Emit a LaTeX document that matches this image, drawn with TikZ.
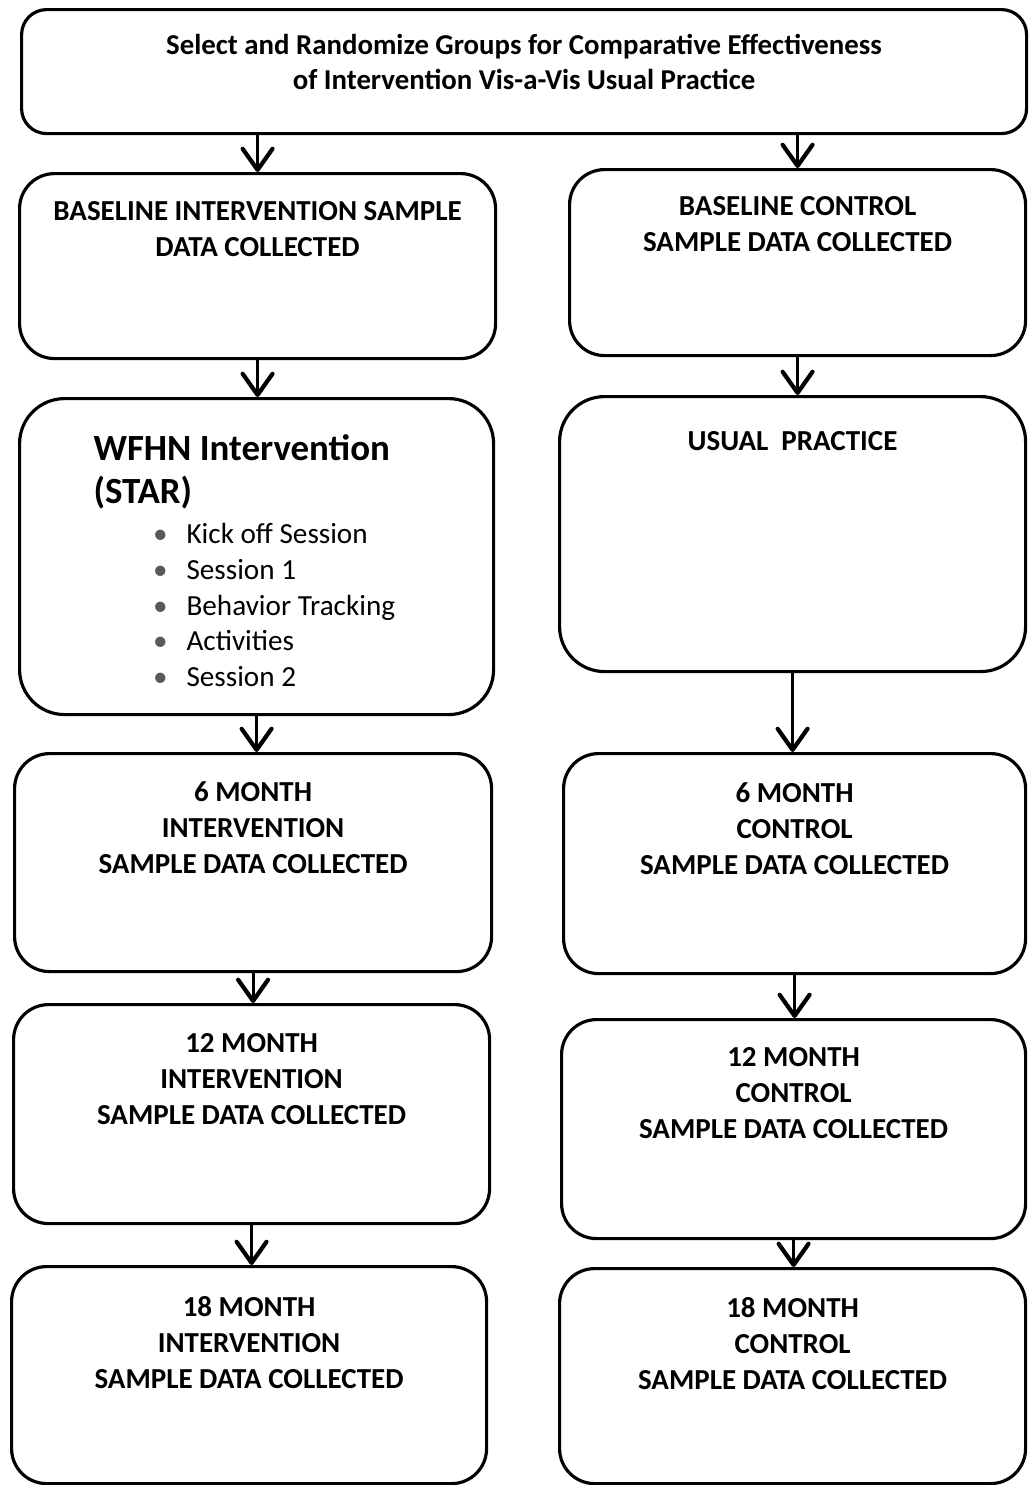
\documentclass[tikz,border=0pt]{standalone}
\usepackage{fontspec}
\setmainfont{Carlito}
\usetikzlibrary{arrows.meta}
\newdimen\pxu
\pxu=0.02cm
% box body: width, height, top padding (all in px), text
\newcommand{\boxbody}[4]{\parbox[c][#2\pxu][t]{#1\pxu}{\centering\vspace*{#3\pxu}\strut #4}}
\tikzset{
  stage/.style={draw, line width=1.8pt, rounded corners=0.7cm, inner sep=0pt,
    anchor=north west, font=\bfseries\fontsize{16.5}{20.4}\selectfont},
  flow/.style={line width=1.8pt,
    -{Straight Barb[length=12pt,width=17pt,line width=2.4pt,round]}},
}
\newcommand{\itm}{\strut\llap{\textcolor{black!65}{•}\hspace{19\pxu}}}

\begin{document}
\begin{tikzpicture}[x=0.02cm, y=-0.02cm]
  \useasboundingbox (0,0) rectangle (1029,1485);

  % Define nodes
  \node[stage, rounded corners=0.5cm, font=\bfseries\fontsize{16.4}{20}\selectfont] (select) at (20,8)
    {\boxbody{1005}{124}{20}{Select and Randomize Groups for Comparative Effectiveness\\of Intervention Vis-a-Vis Usual Practice}};

  \node[stage] (bint) at (18,172)
    {\boxbody{476}{185}{22}{BASELINE INTERVENTION SAMPLE\\DATA COLLECTED}};
  \node[stage, rounded corners=0.9cm] (wfhn) at (18,397)
    {\parbox[c][316\pxu][t]{474\pxu}{\raggedright\vspace*{32\pxu}\leftskip=74\pxu
      \fontsize{21}{24.4}\selectfont\strut WFHN Intervention\\(STAR)\par
      \vspace{2.3pt}\leftskip=167\pxu\fontsize{16.6}{20.4}\selectfont\mdseries
      \itm Kick off Session\\
      \itm Session 1\\
      \itm Behavior Tracking\\
      \itm Activities\\
      \itm Session 2\par}};
  \node[stage] (mint6) at (13,752)
    {\boxbody{477}{218}{23}{6 MONTH\\INTERVENTION\\SAMPLE DATA COLLECTED}};
  \node[stage] (mint12) at (12,1003)
    {\boxbody{476}{219}{23}{12 MONTH\\INTERVENTION\\SAMPLE DATA COLLECTED}};
  \node[stage] (mint18) at (10,1265)
    {\boxbody{475}{217}{25}{18 MONTH\\INTERVENTION\\SAMPLE DATA COLLECTED}};

  \node[stage] (bctl) at (568,168)
    {\boxbody{456}{186}{21}{BASELINE CONTROL\\SAMPLE DATA COLLECTED}};
  \node[stage, rounded corners=0.9cm] (usual) at (558,395)
    {\boxbody{466}{275}{29}{USUAL~~PRACTICE}};
  \node[stage] (mctl6) at (562,752)
    {\boxbody{462}{220}{24}{6 MONTH\\CONTROL\\SAMPLE DATA COLLECTED}};
  \node[stage] (mctl12) at (560,1018)
    {\boxbody{464}{219}{22}{12 MONTH\\CONTROL\\SAMPLE DATA COLLECTED}};
  \node[stage] (mctl18) at (558,1267)
    {\boxbody{466}{215}{24}{18 MONTH\\CONTROL\\SAMPLE DATA COLLECTED}};

  % Connect nodes
  \draw[flow] (select.south -| bint.north) -- (bint.north);
  \draw[flow] (select.south -| bctl.north) -- (bctl.north);
  \draw[flow] (bint.south) -- (bint.south |- wfhn.north);
  \draw[flow] (wfhn.south) -- (wfhn.south |- mint6.north);
  \draw[flow] (mint6.south) -- (mint6.south |- mint12.north);
  \draw[flow] (mint12.south) -- (mint12.south |- mint18.north);
  \draw[flow] (bctl.south) -- (bctl.south |- usual.north);
  \draw[flow] (usual.south) -- (usual.south |- mctl6.north);
  \draw[flow] (mctl6.south) -- (mctl6.south |- mctl12.north);
  \draw[flow] (mctl12.south) -- (mctl12.south |- mctl18.north);

\end{tikzpicture}
\end{document}
